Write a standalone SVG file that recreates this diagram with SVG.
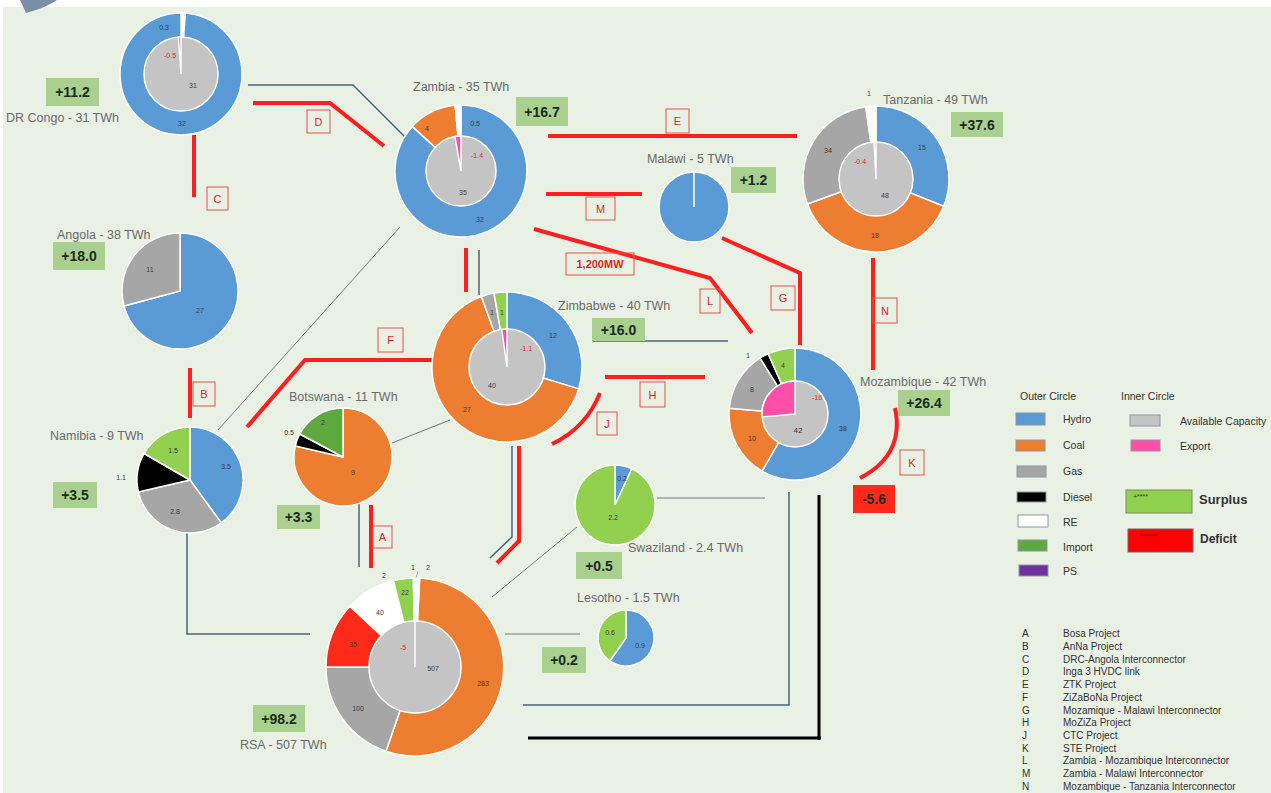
<svg xmlns="http://www.w3.org/2000/svg" width="1271" height="793" viewBox="0 0 1271 793">
<style>
text{font-family:"Liberation Sans",Arial,sans-serif}
.lbl{font-size:12.5px;fill:#6b6b6b}
.sur rect{fill:#a9d08e}
.sur text{font-weight:bold;font-size:14px;fill:#1e2a1e;text-anchor:middle;dominant-baseline:central}
.pl{font-size:7px;fill:#3a3a3a;text-anchor:middle;dominant-baseline:central}
.pr{font-size:7px;fill:#e8202a;text-anchor:middle;dominant-baseline:central}
.red{stroke:#ff1f1f;stroke-width:4;fill:none}
.slate{stroke:#4a6480;stroke-width:1.5;fill:none}
.thin{stroke:#707a80;stroke-width:1;fill:none}
.blk{stroke:#000;stroke-width:3;fill:none}
.box rect{fill:none;stroke:#e8504a;stroke-width:1}
.box text{fill:#e0261e;font-size:11px;text-anchor:middle;dominant-baseline:central}
.s path,.s circle{stroke:#fff;stroke-width:1.5}
.hy{fill:#5b9bd5}.co{fill:#ed7d31}.ga{fill:#a6a6a6}.di{fill:#000}.re{fill:#fff}.im{fill:#5fa83f}.lg{fill:#92d050}.ps{fill:#7030a0}.cap{fill:#c4c4c4}.ex{fill:#ff4fa7}.rd{fill:#ff2a1a}
.leg{font-size:10.5px;fill:#333}
.proj{font-size:10px;fill:#333}
.sw{stroke:#8a98a4;stroke-width:1}
</style>
<rect x="0" y="0" width="1271" height="793" fill="#ffffff"/>
<rect x="3" y="7" width="1268" height="786" fill="#e9f0e4"/>
<path d="M20,0 L57,0 C50,5 40,9 26,13 Z" fill="#7b8fa6"/>

<g id="connectors">
  <polyline class="slate" points="248,85 353,85 405,137"/>
  <polyline class="red" points="253,103 330,103 384,146"/>
  <line class="red" x1="194" y1="135" x2="194" y2="197"/>
  <line class="red" x1="548" y1="136" x2="797" y2="136"/>
  <line class="red" x1="546" y1="194" x2="642" y2="194"/>
  <polyline class="red" points="534,229 710,278 752,333"/>
  <polyline class="red" points="722,238 800,273 800,345"/>
  <line class="red" x1="873" y1="258" x2="873" y2="370"/>
  <line class="red" x1="466" y1="248" x2="466" y2="292"/>
  <line class="slate" x1="479" y1="250" x2="479" y2="295"/>
  <line class="thin" x1="400" y1="227" x2="218" y2="430"/>
  <polyline class="red" points="247,427 305,360 432,360"/>
  <line class="red" x1="190" y1="368" x2="190" y2="418"/>
  <line class="thin" x1="392" y1="443" x2="450" y2="420"/>
  <line class="slate" x1="359" y1="480" x2="359" y2="567"/>
  <line class="red" x1="371" y1="505" x2="371" y2="568"/>
  <polyline class="red" points="519,446 519,541 497,563"/>
  <polyline class="slate" points="512,446 512,537 490,558"/>
  <line class="thin" x1="577" y1="527" x2="492" y2="597"/>
  <line class="thin" x1="657" y1="498" x2="765" y2="498"/>
  <line class="thin" x1="505" y1="634" x2="580" y2="634"/>
  <polyline class="slate" points="187,533 187,634 310,634"/>
  <polyline class="slate" points="789,492 789,705 523,705"/>
  <polyline class="blk" points="819,495 819,738 528,738"/>
  <circle cx="819" cy="738" r="2" fill="#000"/>
  <line class="slate" x1="593" y1="341" x2="728" y2="341"/>
  <line class="red" x1="605" y1="377" x2="705" y2="377"/>
  <path class="red" d="M600,393 A95,95 0 0 1 552,444"/>
  <path class="red" d="M895,408 Q905,455 860,478"/>
  <g class="box"><rect x="307" y="110" width="23" height="23"/><text x="318.5" y="121.5">D</text></g>
  <g class="box"><rect x="207" y="187" width="21" height="23"/><text x="217.5" y="198.5">C</text></g>
  <g class="box"><rect x="666" y="109" width="23" height="24"/><text x="677.5" y="121">E</text></g>
  <g class="box"><rect x="586" y="197" width="29" height="23"/><text x="600.5" y="208.5">M</text></g>
  <g class="box"><rect x="566" y="253" width="68" height="22"/><text x="600" y="264" style="font-weight:bold;font-size:11px">1,200MW</text></g>
  <g class="box"><rect x="700" y="289" width="20" height="24"/><text x="710" y="301">L</text></g>
  <g class="box"><rect x="771" y="286" width="24" height="24"/><text x="783" y="298">G</text></g>
  <g class="box"><rect x="873" y="298" width="24" height="25"/><text x="885" y="310.5">N</text></g>
  <g class="box"><rect x="378" y="328" width="25" height="24"/><text x="390.5" y="340">F</text></g>
  <g class="box"><rect x="193" y="382" width="22" height="24"/><text x="204" y="394">B</text></g>
  <g class="box"><rect x="640" y="382" width="25" height="25"/><text x="652.5" y="394.5">H</text></g>
  <g class="box"><rect x="597" y="412" width="20" height="23"/><text x="607" y="423.5">J</text></g>
  <g class="box"><rect x="900" y="450" width="24" height="25"/><text x="912" y="462.5">K</text></g>
  <g class="box"><rect x="373" y="526" width="19" height="22"/><text x="382.5" y="537">A</text></g>
</g>

<g id="drcongo">
  <g class="s">
    <circle class="hy" cx="181" cy="74" r="61"/>
    <path class="re" d="M181,74 L181,13 A61,61 0 0 1 185.3,13.15 Z"/>
    <circle class="cap" cx="181" cy="74" r="37"/>
    <path class="ex" d="M181,74 L178.4,37.1 A37,37 0 0 1 181,37 Z"/>
  </g>
  <text class="pl" x="164" y="27">0.3</text>
  <text class="pr" x="170" y="55">-0.5</text>
  <text class="pl" x="193" y="85">31</text>
  <text class="pl" x="182" y="123">32</text>
  <text class="lbl" x="6" y="122">DR Congo - 31 TWh</text>
  <g class="sur"><rect x="46" y="78" width="53" height="28"/><text x="72.5" y="92">+11.2</text></g>
</g>

<g id="zambia">
  <g class="s">
    <path class="hy" d="M461,171 L461,105 A66,66 0 1 1 412.3,126.4 Z"/>
    <path class="co" d="M461,171 L412.3,126.4 A66,66 0 0 1 455.2,105.2 Z"/>
    <path class="re" d="M461,171 L455.2,105.2 A66,66 0 0 1 461,105 Z"/>
    <circle class="cap" cx="461" cy="171" r="35"/>
    <path class="ex" d="M461,171 L454.9,136.5 A35,35 0 0 1 461,136 Z"/>
  </g>
  <text class="pl" x="427" y="128">4</text>
  <text class="pl" x="475" y="123">0.5</text>
  <text class="pr" x="477" y="155">-1.4</text>
  <text class="pl" x="463" y="192">35</text>
  <text class="pl" x="480" y="219">32</text>
  <text class="lbl" x="413" y="91">Zambia - 35 TWh</text>
  <g class="sur"><rect x="516" y="97" width="52" height="29"/><text x="542" y="111.5">+16.7</text></g>
</g>

<g id="tanzania">
  <g class="s">
    <path class="hy" d="M876,179 L876,106 A73,73 0 0 1 943.7,206.3 Z"/>
    <path class="co" d="M876,179 L943.7,206.3 A73,73 0 0 1 807.4,204 Z"/>
    <path class="ga" d="M876,179 L807.4,204 A73,73 0 0 1 865.8,106.7 Z"/>
    <path class="re" d="M876,179 L865.8,106.7 A73,73 0 0 1 876,106 Z"/>
    <circle class="cap" cx="876" cy="179" r="37"/>
    <path class="ex" d="M876,179 L874.1,142 A37,37 0 0 1 876,142 Z"/>
  </g>
  <text class="pl" x="869" y="93">1</text>
  <text class="pl" x="922" y="147">15</text>
  <text class="pl" x="828" y="150">34</text>
  <text class="pl" x="875" y="235">18</text>
  <text class="pr" x="860" y="161">-0.4</text>
  <text class="pl" x="885" y="195">48</text>
  <text class="lbl" x="883" y="104">Tanzania - 49 TWh</text>
  <g class="sur"><rect x="951" y="112" width="52" height="25"/><text x="977" y="124.5">+37.6</text></g>
</g>

<g id="malawi">
  <g class="s">
    <circle class="hy" cx="694" cy="207" r="35"/>
    <line x1="694" y1="172" x2="694" y2="207" stroke="#fff" stroke-width="1.5"/>
  </g>
  <text class="lbl" x="647" y="163">Malawi - 5 TWh</text>
  <g class="sur"><rect x="731" y="167" width="45" height="26"/><text x="753.5" y="180">+1.2</text></g>
</g>

<g id="angola">
  <g class="s">
    <path class="hy" d="M180,291 L180,233 A58,58 0 1 1 124,306 Z"/>
    <path class="ga" d="M180,291 L124,306 A58,58 0 0 1 180,233 Z"/>
  </g>
  <text class="pl" x="150" y="269">11</text>
  <text class="pl" x="200" y="310">27</text>
  <text class="lbl" x="57" y="239">Angola - 38 TWh</text>
  <g class="sur"><rect x="53" y="242" width="52" height="28"/><text x="79" y="256">+18.0</text></g>
</g>

<g id="zimbabwe">
  <g class="s">
    <path class="hy" d="M507,367 L507,292 A75,75 0 0 1 578.7,388.9 Z"/>
    <path class="co" d="M507,367 L578.7,388.9 A75,75 0 1 1 481.4,296.5 Z"/>
    <path class="ga" d="M507,367 L481.4,296.5 A75,75 0 0 1 494,293.1 Z"/>
    <path class="lg" d="M507,367 L494,293.1 A75,75 0 0 1 507,292 Z"/>
    <circle class="cap" cx="507" cy="367" r="38"/>
    <path class="ex" d="M507,367 L501.7,329.4 A38,38 0 0 1 507,329 Z"/>
  </g>
  <text class="pl" x="492" y="312">1</text>
  <text class="pl" x="502" y="312">1</text>
  <text class="pl" x="553" y="335">12</text>
  <text class="pl" x="467" y="409">27</text>
  <text class="pr" x="526" y="348">-1.1</text>
  <text class="pl" x="492" y="385">40</text>
  <text class="lbl" x="558" y="310">Zimbabwe - 40 TWh</text>
  <g class="sur"><rect x="592" y="318" width="53" height="23"/><text x="618.5" y="329.5">+16.0</text></g>
</g>

<g id="mozambique">
  <g class="s">
    <path class="hy" d="M795,414 L795,348 A66,66 0 1 1 762,471.2 Z"/>
    <path class="co" d="M795,414 L762,471.2 A66,66 0 0 1 729.3,408.2 Z"/>
    <path class="ga" d="M795,414 L729.3,408.2 A66,66 0 0 1 760,358 Z"/>
    <path class="di" d="M795,414 L760,358 A66,66 0 0 1 768.2,353.7 Z"/>
    <path class="lg" d="M795,414 L768.2,353.7 A66,66 0 0 1 795,348 Z"/>
    <circle class="cap" cx="795" cy="414" r="33"/>
    <path class="ex" d="M795,414 L762.1,416.9 A33,33 0 0 1 795,381 Z"/>
  </g>
  <text class="pl" x="748" y="355">1</text>
  <text class="pl" x="783" y="365">4</text>
  <text class="pl" x="752" y="389">8</text>
  <text class="pl" x="752" y="438">10</text>
  <text class="pl" x="843" y="428">38</text>
  <text class="pr" x="817" y="397">-16</text>
  <text class="pl" x="798" y="430" style="font-size:8px">42</text>
  <text class="lbl" x="860" y="386">Mozambique - 42 TWh</text>
  <g class="sur"><rect x="898" y="390" width="52" height="26"/><text x="924" y="403">+26.4</text></g>
  <g class="sur"><rect x="853" y="485" width="42" height="28" style="fill:#ff2a1a"/><text x="874" y="499">-5.6</text></g>
</g>

<g id="namibia">
  <g class="s">
    <path class="hy" d="M190,480 L190,427 A53,53 0 0 1 221.2,522.9 Z"/>
    <path class="ga" d="M190,480 L221.2,522.9 A53,53 0 0 1 138.4,491.9 Z"/>
    <path class="di" d="M190,480 L138.4,491.9 A53,53 0 0 1 144.1,453.5 Z"/>
    <path class="lg" d="M190,480 L144.1,453.5 A53,53 0 0 1 190,427 Z"/>
  </g>
  <text class="pl" x="226" y="466">3.5</text>
  <text class="pl" x="175" y="511">2.8</text>
  <text class="pl" x="121" y="477">1.1</text>
  <text class="pl" x="173" y="450">1.5</text>
  <text class="lbl" x="50" y="440">Namibia - 9 TWh</text>
  <g class="sur"><rect x="53" y="482" width="44" height="26"/><text x="75" y="495">+3.5</text></g>
</g>

<g id="botswana">
  <g class="s">
    <path class="co" d="M343,457 L343,408 A49,49 0 1 1 295.3,446 Z"/>
    <path class="di" d="M343,457 L295.3,446 A49,49 0 0 1 299.7,434 Z"/>
    <path class="im" d="M343,457 L299.7,434 A49,49 0 0 1 343,408 Z"/>
  </g>
  <text class="pl" x="353" y="472">9</text>
  <text class="pl" x="289" y="432">0.5</text>
  <text class="pl" x="323" y="422">2</text>
  <text class="lbl" x="289" y="401">Botswana - 11 TWh</text>
  <g class="sur"><rect x="277" y="505" width="43" height="24"/><text x="298.5" y="517">+3.3</text></g>
</g>

<g id="rsa">
  <g class="s">
    <path class="co" d="M415,667 L419.7,578.1 A89,89 0 1 1 386,751.2 Z"/>
    <path class="ga" d="M415,667 L386,751.2 A89,89 0 0 1 326,667 Z"/>
    <path class="rd" d="M415,667 L326,667 A89,89 0 0 1 349.9,606.3 Z"/>
    <path class="re" d="M415,667 L349.9,606.3 A89,89 0 0 1 393.5,580.6 Z"/>
    <path class="lg" d="M415,667 L393.5,580.6 A89,89 0 0 1 413.4,578 Z"/>
    <path class="re" d="M415,667 L413.4,578 A89,89 0 0 1 419.7,578.1 Z"/>
    <circle class="cap" cx="415" cy="667" r="46"/>
    <line x1="415" y1="621" x2="415" y2="667" stroke="#fff" stroke-width="1.5"/>
  </g>
  <line x1="418" y1="571" x2="416" y2="578" stroke="#999" stroke-width="0.8"/>
  <text class="pl" x="384" y="575">2</text>
  <text class="pl" x="413" y="567">1</text>
  <text class="pl" x="428" y="567">2</text>
  <text class="pl" x="405" y="592">22</text>
  <text class="pl" x="380" y="612">40</text>
  <text class="pl" x="353" y="644">35</text>
  <text class="pl" x="358" y="708">100</text>
  <text class="pl" x="483" y="683">283</text>
  <text class="pl" x="433" y="668">507</text>
  <text class="pr" x="403" y="647">-5</text>
  <text class="lbl" x="240" y="749">RSA - 507 TWh</text>
  <g class="sur"><rect x="253" y="705" width="52" height="27"/><text x="279" y="718.5">+98.2</text></g>
</g>

<g id="swaziland">
  <g class="s">
    <path class="hy" d="M615,505 L615,465 A40,40 0 0 1 631.9,468.7 Z"/>
    <path class="lg" d="M615,505 L631.9,468.7 A40,40 0 1 1 615,465 Z"/>
  </g>
  <text class="pl" x="622" y="478">0.2</text>
  <text class="pl" x="613" y="517">2.2</text>
  <text class="lbl" x="628" y="552">Swaziland - 2.4 TWh</text>
  <g class="sur"><rect x="576" y="552" width="46" height="27"/><text x="599" y="565.5">+0.5</text></g>
</g>

<g id="lesotho">
  <g class="s">
    <path class="hy" d="M626,638 L626,610 A28,28 0 1 1 609.9,660.9 Z"/>
    <path class="lg" d="M626,638 L609.9,660.9 A28,28 0 0 1 626,610 Z"/>
  </g>
  <text class="pl" x="610" y="632">0.6</text>
  <text class="pl" x="640" y="645">0.9</text>
  <text class="lbl" x="577" y="602">Lesotho - 1.5 TWh</text>
  <g class="sur"><rect x="542" y="647" width="44" height="26"/><text x="564" y="660">+0.2</text></g>
</g>

<g id="legend">
  <text class="leg" x="1020" y="400">Outer Circle</text>
  <text class="leg" x="1121" y="400">Inner Circle</text>
  <rect class="sw hy" x="1016" y="413" width="29" height="12"/><text class="leg" x="1063" y="423">Hydro</text>
  <rect class="sw co" x="1016" y="440" width="29" height="11"/><text class="leg" x="1063" y="449">Coal</text>
  <rect class="sw ga" x="1017" y="466" width="29" height="11"/><text class="leg" x="1063" y="475">Gas</text>
  <rect class="sw di" x="1017" y="492" width="29" height="10"/><text class="leg" x="1063" y="501">Diesel</text>
  <rect class="sw re" x="1018" y="515" width="30" height="12"/><text class="leg" x="1063" y="526">RE</text>
  <rect class="sw im" x="1018" y="540" width="29" height="11"/><text class="leg" x="1063" y="551">Import</text>
  <rect class="sw ps" x="1019" y="565" width="29" height="11"/><text class="leg" x="1063" y="575">PS</text>
  <rect class="sw cap" x="1130" y="415" width="30" height="11"/><text class="leg" x="1180" y="425">Available Capacity</text>
  <rect class="sw ex" x="1131" y="440" width="29" height="11"/><text class="leg" x="1180" y="450">Export</text>
  <rect x="1126" y="490" width="66" height="23" fill="#8fd14f" stroke="#7a8a6a" stroke-width="1"/>
  <text x="1133" y="499" style="font-size:7px;fill:#333">+****</text>
  <text x="1199" y="504" style="font-size:13px;font-weight:bold;fill:#333">Surplus</text>
  <rect x="1128" y="529" width="65" height="23" fill="#ff0000" stroke="#8a5a5a" stroke-width="1"/>
  <line x1="1140" y1="535" x2="1158" y2="535" stroke="#333" stroke-width="0.8"/>
  <text x="1200" y="543" style="font-size:12px;font-weight:bold;fill:#333">Deficit</text>
</g>

<g id="projects">
  <text class="proj" x="1022" y="637">A</text><text class="proj" x="1063" y="637">Bosa Project</text>
  <text class="proj" x="1022" y="650">B</text><text class="proj" x="1063" y="650">AnNa Project</text>
  <text class="proj" x="1022" y="663">C</text><text class="proj" x="1063" y="663">DRC-Angola Interconnector</text>
  <text class="proj" x="1022" y="675">D</text><text class="proj" x="1063" y="675">Inga 3 HVDC link</text>
  <text class="proj" x="1022" y="688">E</text><text class="proj" x="1063" y="688">ZTK Project</text>
  <text class="proj" x="1022" y="701">F</text><text class="proj" x="1063" y="701">ZiZaBoNa Project</text>
  <text class="proj" x="1022" y="714">G</text><text class="proj" x="1063" y="714">Mozamique - Malawi Interconnector</text>
  <text class="proj" x="1022" y="726">H</text><text class="proj" x="1063" y="726">MoZiZa Project</text>
  <text class="proj" x="1022" y="739">J</text><text class="proj" x="1063" y="739">CTC Project</text>
  <text class="proj" x="1022" y="752">K</text><text class="proj" x="1063" y="752">STE Project</text>
  <text class="proj" x="1022" y="764">L</text><text class="proj" x="1063" y="764">Zambia - Mozambique Interconnector</text>
  <text class="proj" x="1022" y="777">M</text><text class="proj" x="1063" y="777">Zambia - Malawi Interconnector</text>
  <text class="proj" x="1022" y="790">N</text><text class="proj" x="1063" y="790">Mozambique - Tanzania Interconnector</text>
</g>
</svg>
